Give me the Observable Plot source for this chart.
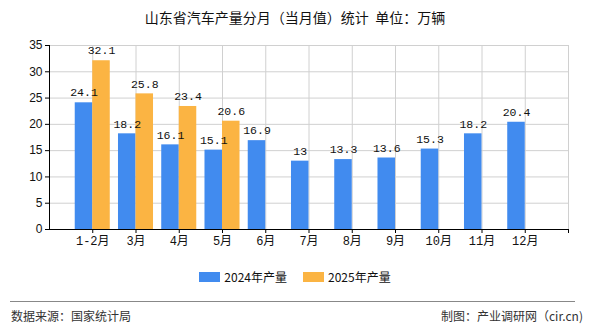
<!DOCTYPE html>
<html>
<head>
<meta charset="utf-8">
<script src="https://cdn.jsdelivr.net/npm/d3@7"></script>
<script src="https://cdn.jsdelivr.net/npm/@observablehq/plot@0.6"></script>
<style>
  html, body { margin: 0; padding: 0; background: #fff; }
  body { width: 590px; height: 330px; position: relative; overflow: hidden;
         font-family: "Noto Sans CJK SC", "DejaVu Sans", sans-serif; }
  #title { position: absolute; left: 0; top: 7px; width: 590px; text-align: center;
           font-size: 14px; color: #111; line-height: 20px; }
  #chart { position: absolute; left: 0; top: 36px; }
  #legend { position: absolute; left: 0; top: 268px; width: 590px; display: flex;
            justify-content: center; align-items: center; font-size: 12px; color: #111; }
  .item { display: flex; align-items: center; margin: 0 8px; }
  .sw { width: 21px; height: 10px; margin-right: 4px; }
  #sep { position: absolute; left: 10px; top: 301px; width: 565px; height: 0;
         border-top: 1px solid #888; }
  .foot { position: absolute; top: 307px; font-size: 12px; color: #333; line-height: 18px; }
</style>
</head>
<body>
<div id="title">山东省汽车产量分月（当月值）统计&nbsp;&nbsp;单位：万辆</div>
<div id="chart"></div>
<div id="legend"></div>
<div id="sep"></div>
<div class="foot" style="left:11px">数据来源：国家统计局</div>
<div class="foot" style="right:7px">制图：产业调研网（cir.cn)</div>
<script>
const months = ["1-2月","3月","4月","5月","6月","7月","8月","9月","10月","11月","12月"];
const values2024 = [24.1, 18.2, 16.1, 15.1, 16.9, 13, 13.3, 13.6, 15.3, 18.2, 20.4];
const values2025 = [32.1, 25.8, 23.4, 20.6];
const seriesNames = ["2024年产量", "2025年产量"];
const colors = ["#418BEF", "#FBB443"];
const yTicks = [0, 5, 10, 15, 20, 25, 30, 35];

const d24 = values2024.map((v, i) => ({i: i + 1, v}));
const d25 = values2025.map((v, i) => ({i: i + 1, v}));
const w = 0.405;
const fmt = v => String(v);

const chart = Plot.plot({
  width: 590,
  height: 220,
  marginTop: 9,
  marginBottom: 27,
  marginLeft: 49,
  marginRight: 22,
  style: {fontFamily: "'Liberation Sans', 'Noto Sans CJK SC', sans-serif", fontSize: "12px", color: "#111", background: "transparent"},
  x: {domain: [0, 12], axis: null},
  y: {domain: [0, 35], axis: null},
  marks: [
    Plot.ruleY(yTicks.filter(t => t > 0), {stroke: "#d0d0d0", strokeWidth: 1}),
    Plot.ruleX(d3.range(1, 13), {stroke: "#d0d0d0", strokeWidth: 1}),
    Plot.rectY(d24, {x1: d => d.i - w, x2: d => d.i, y1: 0, y2: "v", fill: colors[0]}),
    Plot.rectY(d25, {x1: d => d.i, x2: d => d.i + w, y1: 0, y2: "v", fill: colors[1]}),
    Plot.text(d24, {x: d => d.i - w / 2, y: "v", text: d => fmt(d.v), dy: -10,
      fontFamily: "'Liberation Mono', 'DejaVu Sans Mono', monospace", fontSize: 11.5, fill: "#111"}),
    Plot.text(d25, {x: d => d.i + w / 2, y: "v", text: d => fmt(d.v), dy: -10,
      fontFamily: "'Liberation Mono', 'DejaVu Sans Mono', monospace", fontSize: 11.5, fill: "#111"}),
    Plot.axisY(yTicks, {label: null, tickSize: 4, tickPadding: 3, stroke: "#000", fill: "#111", fontSize: 12}),
    Plot.axisX(d3.range(1, 13), {label: null, tickSize: 4, tickPadding: 3, stroke: "#000", fill: "#111", fontSize: 12,
      tickFormat: t => months[t - 1] ?? "",
      fontFamily: "'Liberation Mono', 'Noto Sans CJK SC', monospace"}),
    Plot.ruleX([0], {stroke: "#000"}),
    Plot.ruleY([0], {stroke: "#000"})
  ]
});
document.getElementById("chart").appendChild(chart);

const legend = document.getElementById("legend");
seriesNames.forEach((name, k) => {
  const it = document.createElement("div");
  it.className = "item";
  it.innerHTML = `<span class="sw" style="background:${colors[k]}"></span><span>${name}</span>`;
  legend.appendChild(it);
});
</script>
</body>
</html>
